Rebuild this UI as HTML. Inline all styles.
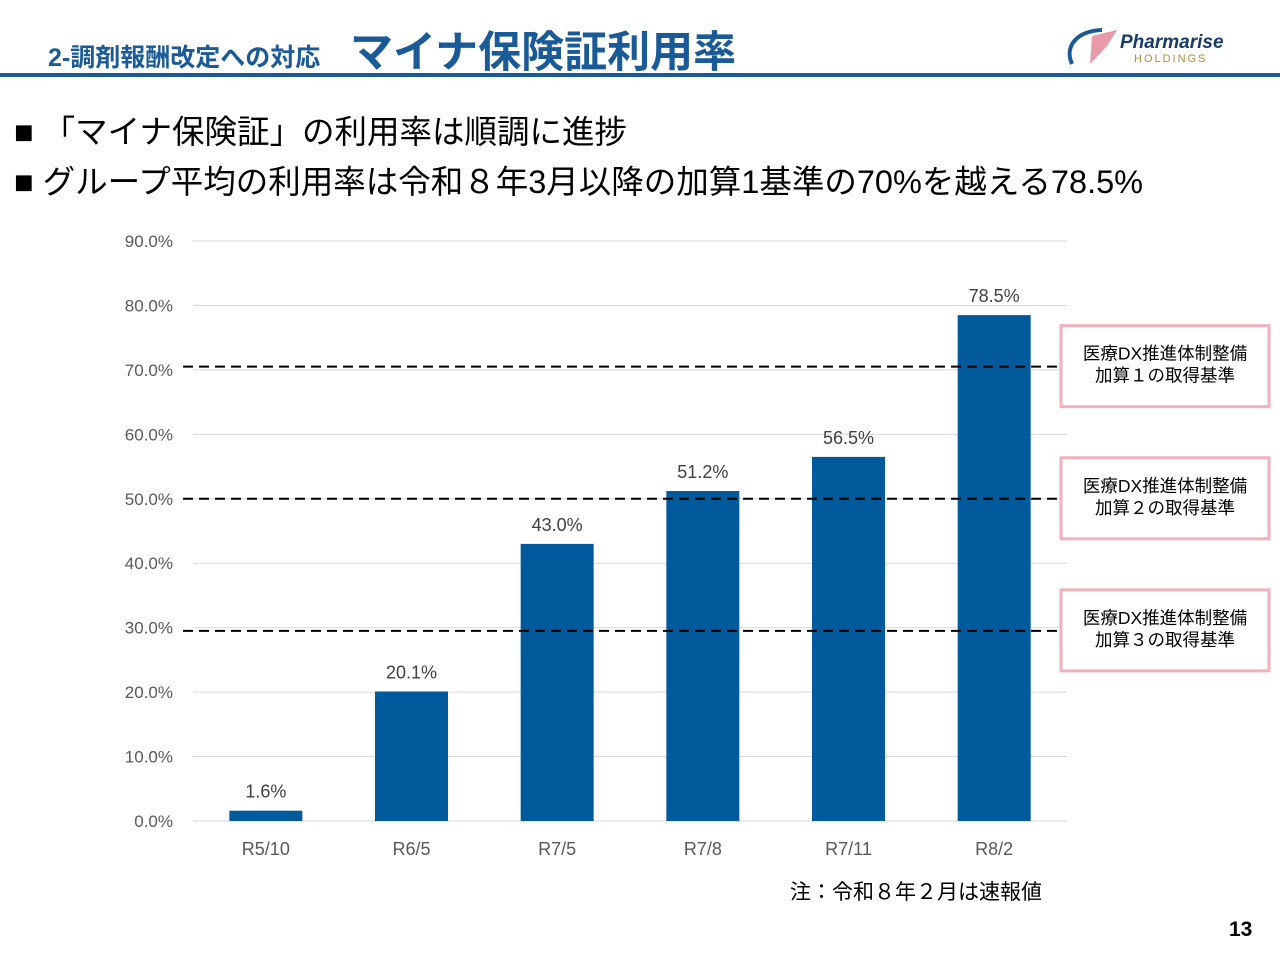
<!DOCTYPE html>
<html><head><meta charset="utf-8"><style>
body{margin:0;width:1280px;height:960px;background:#fff;font-family:"Liberation Sans","Noto Sans CJK JP",sans-serif;position:relative;overflow:hidden}
.abs{position:absolute}
</style></head><body>
<div class="abs" style="left:48px;top:38px;font-size:25px;font-weight:bold;color:#1a5a96">2-調剤報酬改定への対応</div>
<div class="abs" style="left:350px;top:18px;font-size:43px;font-weight:bold;color:#1a5a96">マイナ保険証利用率</div>
<div class="abs" style="left:0;top:73px;width:1280px;height:4px;background:#1a5a96"></div>
<div class="abs" style="left:1062px;top:26px;width:170px;height:44px">
<svg width="60" height="44" style="position:absolute;left:0;top:0"><path d="M10 38 C2 20,15 5,40 4" stroke="#1a5a96" stroke-width="4" fill="none"/><path d="M30 10 L55 4 L45 20 L28 38 Z" fill="#e89aa8"/></svg>
<div class="abs" style="left:58px;top:6px;font-size:19px;font-weight:bold;font-style:italic;color:#1a3a6a">Pharmarise</div>
<div class="abs" style="left:72px;top:27px;font-size:11px;letter-spacing:2px;color:#b09040">HOLDINGS</div>
</div>
<div class="abs" style="left:14px;top:106px;font-size:32.5px;color:#000">■ 「マイナ保険証」の利用率は順調に進捗</div>
<div class="abs" style="left:14px;top:156px;font-size:32.5px;color:#000">■ グループ平均の利用率は令和８年3月以降の加算1基準の70%を越える78.5%</div>
<svg id="chart" class="abs" style="left:0;top:0" width="1280" height="960"></svg>
<div class="abs" style="left:790px;top:876px;font-size:21px">注：令和８年２月は速報値</div>
<div class="abs" style="left:1229px;top:918px;font-size:21px;font-weight:bold">13</div>
<script>
const categories=["R5/10","R6/5","R7/5","R7/8","R7/11","R8/2"];
const values=[1.6,20.1,43.0,51.2,56.5,78.5];
const ticks=[0,10,20,30,40,50,60,70,80,90];
const thresholds=[70.5,50,29.5];
const thresholdLabels=[["医療DX推進体制整備","加算１の取得基準"],["医療DX推進体制整備","加算２の取得基準"],["医療DX推進体制整備","加算３の取得基準"]];
const svg=document.getElementById('chart');const NS="http://www.w3.org/2000/svg";
const x0=193,x1=1067,yb=821,yt=241,ymax=90;
const y=v=>yb-(v/ymax)*(yb-yt);
const bw=(x1-x0)/categories.length;
const xc=i=>x0+bw*(i+0.5);
function mk(t,a){const e=document.createElementNS(NS,t);for(const k in a)e.setAttribute(k,a[k]);svg.appendChild(e);return e;}
ticks.forEach(t=>{
 const l=mk('line',{x1:x0,x2:x1,y1:y(t),y2:y(t),stroke:'#d9d9d9','stroke-width':1});
 
 
 const tx=mk('text',{x:173,y:y(t)+6,'text-anchor':'end','font-size':17,fill:'#595959'});tx.textContent=t.toFixed(1)+'%';
 
 
});
values.forEach((v,i)=>{
 const r=mk('rect',{x:xc(i)-36.5,y:y(v),width:73,height:yb-y(v),fill:'#005a9c'});
 
 
 const t=mk('text',{x:xc(i),y:y(v)-13,'text-anchor':'middle','font-size':18,fill:'#404040'});t.textContent=v.toFixed(1)+'%';
 
 
 const c=mk('text',{x:xc(i),y:855,'text-anchor':'middle','font-size':18,fill:'#595959'});c.textContent=categories[i];
 
 
});
thresholds.forEach((v,i)=>{
 const l=mk('line',{x1:183,x2:1057,y1:y(v),y2:y(v),stroke:'#000','stroke-width':2,'stroke-dasharray':'10 6'});
 
 
 const by=y(v)-41;
 const b=mk('rect',{x:1061,y:by,width:208,height:81,fill:'#fff',stroke:'#f0b0bc','stroke-width':3});
 
 
 thresholdLabels[i].forEach((s,j)=>{
  const t=mk('text',{x:1165,y:by+34+j*22,'text-anchor':'middle','font-size':17.5,fill:'#000'});t.textContent=s;
  
  
 });
});
</script>
</body></html>
